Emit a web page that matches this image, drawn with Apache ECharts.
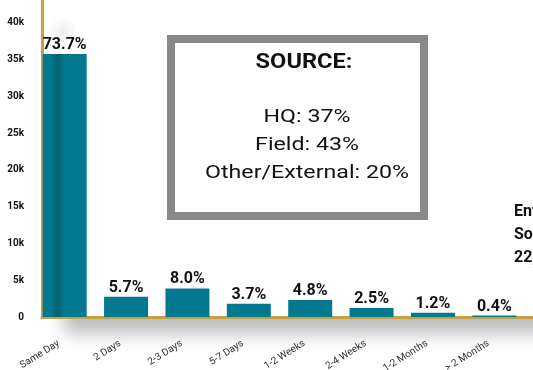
<!DOCTYPE html>
<html>
<head>
<meta charset="utf-8">
<script src="https://cdn.jsdelivr.net/npm/echarts@6/dist/echarts.min.js"></script>
<style>
  html, body { margin: 0; padding: 0; background: #ffffff; }
  #chart { width: 533px; height: 370px; }
</style>
</head>
<body>
<div id="chart"></div>
<script>
// Response time buckets
const categories = ['Same Day', '2 Days', '2-3 Days', '5-7 Days', '1-2 Weeks', '2-4 Weeks', '1-2 Months', '> 2 Months'];
// Share of all requests per bucket (%)
const sharePct = [73.7, 5.7, 8.0, 3.7, 4.8, 2.5, 1.2, 0.4];
// Total number of requests behind the shares
const totalRequests = 48500;
// Y axis range and tick step (requests)
const yMax = 45000;
const yStep = 5000;
// Breakdown by source
const sourceTitle = 'SOURCE:';
const sourceLines = ['HQ: 37%', 'Field: 43%', 'Other/External: 20%'];
// Side note
const sideNote = ['Entries', 'Sourced:', '22,410'];

const TEAL = '#02798F';
const GOLD = '#C9A03F';
const FONT = 'Roboto, "Noto Sans", sans-serif';

const counts = sharePct.map(p => p / 100 * totalRequests);

const barData = counts.map((v, i) => {
  if (i === 0) {
    return {
      value: v,
      itemStyle: {
        color: {
          type: 'linear', x: 0, y: 0, x2: 1, y2: 0,
          colorStops: [
            { offset: 0, color: TEAL },
            { offset: 0.2, color: TEAL },
            { offset: 0.34, color: '#03606F' },
            { offset: 0.5, color: TEAL },
            { offset: 1, color: TEAL }
          ]
        }
      }
    };
  }
  return v;
});

const chart = echarts.init(document.getElementById('chart'), null, { renderer: 'canvas' });

chart.setOption({
  animation: false,
  backgroundColor: '#ffffff',
  grid: [
    { left: 34, right: 8, top: -14, bottom: 53, outerBoundsMode: 'none', containLabel: false },
    { left: 42, right: 0, top: -14, bottom: 53, outerBoundsMode: 'none', containLabel: false }
  ],
  xAxis: [
    {
      type: 'category',
      gridIndex: 0,
      data: categories,
      axisLine: { show: false },
      axisTick: { show: false },
      axisLabel: {
        rotate: 32,
        margin: 22,
        fontSize: 10,
        color: '#333333',
        fontFamily: FONT,
        padding: [0, 7, 0, 0],
        interval: 0
      }
    },
    {
      type: 'value',
      gridIndex: 1,
      min: 0, max: 1,
      axisLine: { show: true, lineStyle: { color: GOLD, width: 3 } },
      axisTick: { show: false },
      axisLabel: { show: false },
      splitLine: { show: false }
    }
  ],
  yAxis: [
    {
      type: 'value',
      gridIndex: 0,
      min: 0,
      max: yMax,
      interval: yStep,
      axisLine: { show: false },
      axisTick: { show: false },
      splitLine: { show: false },
      axisLabel: {
        margin: 10,
        fontSize: 10,
        fontWeight: 'bold',
        color: '#111111',
        fontFamily: FONT,
        showMaxLabel: false,
        formatter: v => (v === 0 ? '0' : (v / 1000) + 'k')
      }
    },
    {
      type: 'value',
      gridIndex: 1,
      min: 0, max: 1,
      axisLine: { show: true, lineStyle: { color: GOLD, width: 3 } },
      axisTick: { show: false },
      axisLabel: { show: false },
      splitLine: { show: false }
    }
  ],
  series: [
    {
      type: 'bar',
      xAxisIndex: 0,
      yAxisIndex: 0,
      data: barData,
      barWidth: 44,
      z: 3,
      itemStyle: { color: TEAL },
      label: {
        show: true,
        position: 'top',
        distance: 1,
        fontSize: 16,
        fontWeight: 'bold',
        color: '#111111',
        fontFamily: FONT,
        formatter: p => sharePct[p.dataIndex].toFixed(1) + '%'
      }
    }
  ],
  graphic: [
    // soft shadow under the baseline
    {
      type: 'rect',
      z: -10,
      silent: true,
      shape: { x: 64, y: 64, width: 490, height: 252 },
      style: {
        fill: '#ffffff',
        shadowColor: 'rgba(0,0,0,0.26)',
        shadowBlur: 16,
        shadowOffsetY: 18
      }
    },
    // faint haze over the first bar
    {
      type: 'ellipse',
      z: -5,
      silent: true,
      shape: { cx: 63, cy: 32, rx: 15, ry: 26 },
      style: {
        fill: {
          type: 'radial', x: 0.5, y: 0.5, r: 0.5,
          colorStops: [
            { offset: 0, color: 'rgba(0,0,0,0.08)' },
            { offset: 1, color: 'rgba(0,0,0,0)' }
          ]
        }
      }
    },
    // source breakdown box
    {
      type: 'rect',
      z: 10,
      silent: true,
      shape: { x: 171, y: 39, width: 253, height: 177 },
      style: { fill: '#ffffff', stroke: '#888888', lineWidth: 8 }
    },
    {
      type: 'text',
      z: 11,
      x: 304, y: 63,
      scaleX: 1.18,
      style: {
        text: sourceTitle,
        fontSize: 20, fontWeight: 'bold', fontFamily: FONT,
        fill: '#111111', align: 'center', verticalAlign: 'middle'
      }
    },
    {
      type: 'text',
      z: 11,
      x: 307, y: 145,
      scaleX: 1.22,
      style: {
        text: sourceLines.join('\n'),
        fontSize: 19, fontFamily: FONT, lineHeight: 28,
        fill: '#111111', align: 'center', verticalAlign: 'middle'
      }
    },
    {
      type: 'text',
      z: 11,
      x: 514, y: 235,
      style: {
        text: sideNote.join('\n'),
        fontSize: 16, fontWeight: 'bold', fontFamily: FONT, lineHeight: 23,
        fill: '#111111', align: 'left', verticalAlign: 'middle'
      }
    }
  ]
});
</script>
</body>
</html>
